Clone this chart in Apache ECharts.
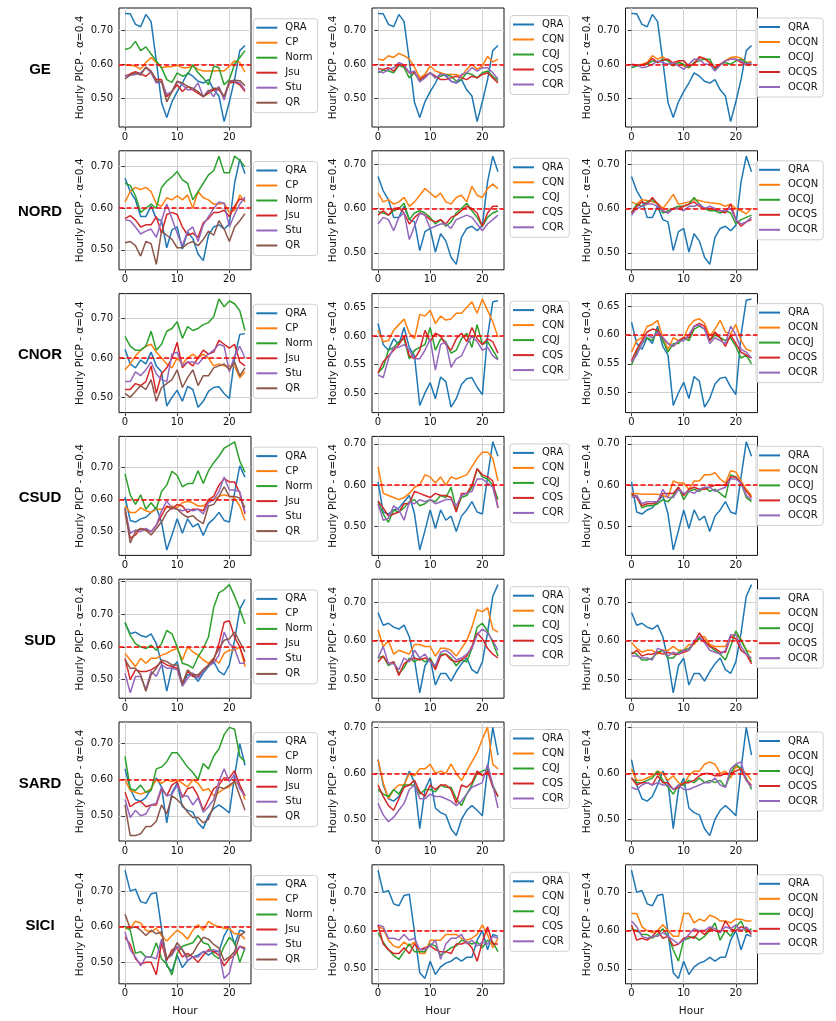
<!DOCTYPE html>
<html>
<head>
<meta charset="utf-8">
<script src="https://cdn.jsdelivr.net/npm/echarts@6/dist/echarts.min.js"></script>
<style>
html,body{margin:0;padding:0;background:#fff;}
#chart{width:836px;height:1021px;}
</style>
</head>
<body>
<div id="chart"></div>
<script>
const HOURS = [0,1,2,3,4,5,6,7,8,9,10,11,12,13,14,15,16,17,18,19,20,21,22,23];
const ROW_NAMES = ['GE','NORD','CNOR','CSUD','SUD','SARD','SICI'];
const COL1_NAMES = ['QRA','CP','Norm','Jsu','Stu','QR'];
const COL2_NAMES = ['QRA','CQN','CQJ','CQS','CQR'];
const COL3_NAMES = ['QRA','OCQN','OCQJ','OCQS','OCQR'];
const Y_LABEL = 'Hourly PICP - α=0.4';
const X_LABEL = 'Hour';
const TARGET = 0.6;

// ---- GE ----
const GE_QRA  = [0.749,0.748,0.717,0.710,0.746,0.725,0.610,0.488,0.444,0.490,0.520,0.545,0.575,0.565,0.550,0.545,0.555,0.525,0.507,0.432,0.490,0.555,0.640,0.655];
const GE_CP   = [0.597,0.597,0.594,0.586,0.605,0.620,0.605,0.590,0.593,0.593,0.597,0.590,0.590,0.595,0.585,0.580,0.580,0.580,0.582,0.580,0.595,0.610,0.605,0.577];
const GE_NORM = [0.643,0.648,0.667,0.640,0.651,0.630,0.610,0.590,0.555,0.547,0.575,0.565,0.570,0.598,0.575,0.560,0.540,0.595,0.590,0.540,0.555,0.600,0.620,0.640];
const GE_JSU  = [0.565,0.572,0.578,0.572,0.565,0.578,0.555,0.555,0.505,0.520,0.540,0.520,0.535,0.525,0.515,0.505,0.515,0.525,0.525,0.505,0.545,0.548,0.540,0.520];
const GE_STU  = [0.565,0.568,0.570,0.575,0.590,0.575,0.545,0.548,0.512,0.520,0.550,0.540,0.525,0.525,0.545,0.505,0.525,0.505,0.535,0.495,0.550,0.550,0.545,0.525];
const GE_QR   = [0.557,0.568,0.575,0.568,0.592,0.580,0.550,0.550,0.490,0.520,0.550,0.545,0.535,0.530,0.520,0.505,0.520,0.530,0.530,0.505,0.550,0.553,0.552,0.537];
const GE_CQN  = [0.616,0.612,0.625,0.620,0.632,0.625,0.615,0.592,0.560,0.570,0.595,0.580,0.575,0.570,0.570,0.570,0.565,0.585,0.600,0.585,0.595,0.623,0.607,0.615];
const GE_CQJ  = [0.575,0.583,0.580,0.575,0.597,0.590,0.560,0.575,0.550,0.565,0.575,0.560,0.565,0.570,0.565,0.550,0.555,0.575,0.570,0.560,0.575,0.580,0.565,0.552];
const GE_CQS  = [0.587,0.585,0.590,0.580,0.600,0.595,0.575,0.575,0.555,0.565,0.575,0.565,0.555,0.555,0.560,0.565,0.560,0.555,0.565,0.560,0.570,0.575,0.560,0.545];
const GE_CQR  = [0.580,0.575,0.585,0.590,0.605,0.598,0.575,0.580,0.548,0.560,0.575,0.560,0.570,0.570,0.550,0.545,0.570,0.575,0.590,0.580,0.590,0.590,0.575,0.557];
const GE_OCQN = [0.597,0.598,0.600,0.605,0.625,0.615,0.622,0.610,0.605,0.610,0.595,0.590,0.605,0.620,0.615,0.605,0.590,0.600,0.610,0.620,0.622,0.618,0.605,0.608];
const GE_OCQJ = [0.590,0.595,0.598,0.600,0.610,0.605,0.615,0.610,0.595,0.605,0.600,0.590,0.605,0.610,0.615,0.615,0.585,0.600,0.605,0.600,0.610,0.615,0.605,0.600];
const GE_OCQS = [0.600,0.598,0.597,0.603,0.617,0.605,0.612,0.615,0.603,0.610,0.610,0.595,0.600,0.622,0.617,0.605,0.590,0.600,0.610,0.615,0.615,0.605,0.600,0.598];
const GE_OCQR = [0.595,0.598,0.590,0.593,0.600,0.610,0.605,0.600,0.605,0.595,0.585,0.600,0.615,0.615,0.600,0.600,0.580,0.598,0.610,0.615,0.615,0.610,0.600,0.605];

// ---- NORD ----
const NORD_QRA  = [0.672,0.640,0.620,0.580,0.580,0.605,0.575,0.570,0.505,0.548,0.555,0.502,0.543,0.527,0.490,0.474,0.535,0.555,0.560,0.550,0.562,0.660,0.718,0.683];
const NORD_CP   = [0.615,0.640,0.650,0.645,0.650,0.640,0.610,0.605,0.625,0.620,0.630,0.620,0.632,0.600,0.640,0.625,0.620,0.610,0.610,0.612,0.590,0.595,0.632,0.615];
const NORD_NORM = [0.660,0.655,0.630,0.590,0.600,0.610,0.600,0.650,0.665,0.675,0.688,0.668,0.660,0.620,0.640,0.660,0.680,0.690,0.725,0.685,0.685,0.725,0.715,0.700];
const NORD_JSU  = [0.575,0.582,0.572,0.555,0.560,0.560,0.580,0.540,0.585,0.590,0.585,0.555,0.535,0.540,0.530,0.565,0.575,0.590,0.590,0.595,0.580,0.605,0.622,0.620];
const NORD_STU  = [0.572,0.570,0.555,0.538,0.545,0.550,0.530,0.570,0.610,0.575,0.540,0.510,0.545,0.555,0.520,0.560,0.580,0.600,0.615,0.612,0.555,0.585,0.610,0.627];
const NORD_QR   = [0.517,0.520,0.510,0.485,0.520,0.515,0.465,0.545,0.535,0.525,0.505,0.505,0.515,0.520,0.510,0.525,0.545,0.535,0.570,0.550,0.520,0.555,0.570,0.587];
const NORD_CQN  = [0.635,0.615,0.620,0.610,0.615,0.625,0.605,0.615,0.630,0.645,0.635,0.625,0.635,0.615,0.610,0.625,0.630,0.615,0.650,0.630,0.625,0.645,0.655,0.645];
const NORD_CQJ  = [0.593,0.590,0.585,0.595,0.600,0.612,0.575,0.590,0.595,0.590,0.580,0.565,0.575,0.560,0.570,0.590,0.600,0.612,0.595,0.580,0.560,0.580,0.590,0.595];
const NORD_CQS  = [0.585,0.595,0.585,0.600,0.602,0.590,0.565,0.580,0.590,0.585,0.575,0.570,0.575,0.565,0.580,0.585,0.595,0.605,0.600,0.590,0.560,0.590,0.605,0.605];
const NORD_CQR  = [0.565,0.580,0.575,0.550,0.580,0.590,0.530,0.560,0.590,0.585,0.555,0.560,0.565,0.565,0.555,0.575,0.580,0.585,0.580,0.565,0.550,0.565,0.575,0.585];
const NORD_OCQN = [0.615,0.610,0.620,0.618,0.615,0.612,0.600,0.615,0.632,0.610,0.612,0.615,0.620,0.618,0.615,0.613,0.612,0.610,0.605,0.610,0.600,0.595,0.588,0.600];
const NORD_OCQJ = [0.590,0.610,0.605,0.615,0.620,0.610,0.590,0.595,0.600,0.605,0.605,0.610,0.625,0.610,0.600,0.595,0.595,0.590,0.595,0.590,0.565,0.575,0.580,0.585];
const NORD_OCQS = [0.590,0.605,0.615,0.610,0.625,0.610,0.595,0.590,0.600,0.600,0.605,0.610,0.615,0.605,0.600,0.600,0.598,0.595,0.590,0.610,0.575,0.560,0.570,0.575];
const NORD_OCQR = [0.585,0.600,0.605,0.610,0.610,0.605,0.595,0.590,0.600,0.600,0.595,0.605,0.605,0.610,0.600,0.605,0.600,0.595,0.595,0.600,0.575,0.565,0.570,0.580];

// ---- CNOR ----
const CNOR_QRA  = [0.622,0.585,0.575,0.595,0.585,0.615,0.580,0.565,0.478,0.500,0.518,0.490,0.528,0.520,0.475,0.490,0.515,0.525,0.527,0.510,0.497,0.600,0.660,0.662];
const CNOR_CP   = [0.570,0.585,0.605,0.620,0.630,0.635,0.615,0.600,0.585,0.575,0.600,0.585,0.600,0.610,0.600,0.610,0.600,0.580,0.585,0.580,0.580,0.580,0.550,0.565];
const CNOR_NORM = [0.655,0.630,0.620,0.620,0.630,0.668,0.620,0.635,0.668,0.675,0.692,0.650,0.680,0.670,0.675,0.685,0.690,0.705,0.750,0.730,0.745,0.738,0.720,0.670];
const CNOR_JSU  = [0.520,0.520,0.535,0.530,0.540,0.580,0.510,0.560,0.575,0.600,0.640,0.575,0.590,0.580,0.600,0.620,0.610,0.615,0.645,0.635,0.625,0.635,0.590,0.580];
const CNOR_STU  = [0.540,0.540,0.565,0.555,0.570,0.590,0.560,0.545,0.540,0.610,0.615,0.580,0.590,0.590,0.585,0.600,0.610,0.620,0.635,0.630,0.565,0.605,0.630,0.600];
const CNOR_QR   = [0.510,0.500,0.515,0.530,0.520,0.545,0.490,0.525,0.535,0.545,0.570,0.525,0.550,0.570,0.530,0.555,0.555,0.575,0.580,0.585,0.570,0.590,0.555,0.575];
const CNOR_CQN  = [0.610,0.590,0.592,0.610,0.620,0.630,0.605,0.595,0.638,0.635,0.645,0.622,0.635,0.628,0.630,0.640,0.640,0.650,0.660,0.640,0.665,0.645,0.625,0.598];
const CNOR_CQJ  = [0.535,0.545,0.575,0.580,0.590,0.595,0.560,0.575,0.580,0.585,0.615,0.575,0.595,0.590,0.570,0.575,0.595,0.605,0.580,0.620,0.585,0.590,0.575,0.560];
const CNOR_CQS  = [0.535,0.555,0.565,0.575,0.585,0.600,0.565,0.560,0.575,0.610,0.590,0.605,0.600,0.585,0.575,0.595,0.605,0.590,0.615,0.595,0.585,0.595,0.590,0.570];
const CNOR_CQR  = [0.532,0.527,0.560,0.580,0.580,0.585,0.575,0.560,0.560,0.575,0.595,0.540,0.585,0.590,0.545,0.560,0.565,0.585,0.600,0.590,0.575,0.580,0.565,0.558];
const CNOR_OCQN = [0.570,0.590,0.595,0.615,0.618,0.625,0.595,0.575,0.595,0.590,0.595,0.615,0.625,0.628,0.620,0.598,0.610,0.625,0.605,0.602,0.618,0.590,0.575,0.572];
const CNOR_OCQJ = [0.548,0.570,0.585,0.595,0.590,0.610,0.590,0.570,0.585,0.585,0.595,0.590,0.610,0.615,0.610,0.590,0.600,0.595,0.590,0.595,0.580,0.560,0.565,0.550];
const CNOR_OCQS = [0.555,0.575,0.590,0.605,0.610,0.608,0.595,0.585,0.580,0.590,0.595,0.595,0.615,0.620,0.615,0.590,0.605,0.595,0.580,0.600,0.585,0.570,0.565,0.560];
const CNOR_OCQR = [0.553,0.565,0.585,0.600,0.595,0.605,0.595,0.585,0.580,0.590,0.590,0.600,0.615,0.617,0.610,0.585,0.595,0.590,0.585,0.615,0.600,0.575,0.570,0.560];

// ---- CSUD ----
const CSUD_QRA  = [0.608,0.535,0.530,0.540,0.545,0.560,0.575,0.530,0.443,0.490,0.540,0.495,0.540,0.515,0.525,0.488,0.525,0.540,0.560,0.535,0.530,0.620,0.705,0.670];
const CSUD_CP   = [0.580,0.560,0.560,0.575,0.565,0.560,0.570,0.570,0.575,0.580,0.575,0.590,0.595,0.590,0.580,0.580,0.595,0.600,0.610,0.615,0.610,0.605,0.580,0.535];
const CSUD_NORM = [0.680,0.615,0.585,0.615,0.570,0.590,0.570,0.625,0.645,0.688,0.675,0.640,0.650,0.650,0.690,0.650,0.690,0.715,0.735,0.760,0.770,0.780,0.720,0.685];
const CSUD_JSU  = [0.560,0.480,0.490,0.510,0.505,0.500,0.520,0.550,0.580,0.570,0.585,0.580,0.560,0.570,0.570,0.565,0.600,0.610,0.645,0.665,0.655,0.655,0.620,0.555];
const CSUD_STU  = [0.570,0.495,0.505,0.500,0.510,0.500,0.520,0.565,0.595,0.575,0.570,0.565,0.570,0.565,0.570,0.555,0.590,0.600,0.625,0.670,0.630,0.630,0.625,0.560];
const CSUD_QR   = [0.575,0.465,0.500,0.510,0.505,0.490,0.510,0.530,0.560,0.575,0.570,0.555,0.545,0.550,0.535,0.525,0.580,0.585,0.610,0.640,0.610,0.610,0.605,0.575];
const CSUD_CQN  = [0.645,0.580,0.575,0.570,0.565,0.570,0.580,0.595,0.600,0.625,0.620,0.605,0.620,0.600,0.620,0.615,0.620,0.625,0.645,0.665,0.680,0.680,0.665,0.610];
const CSUD_CQJ  = [0.560,0.530,0.510,0.540,0.535,0.545,0.560,0.565,0.550,0.555,0.565,0.560,0.575,0.570,0.595,0.540,0.570,0.575,0.595,0.640,0.620,0.615,0.600,0.565];
const CSUD_CQS  = [0.562,0.545,0.525,0.530,0.535,0.555,0.555,0.585,0.580,0.575,0.570,0.580,0.575,0.575,0.570,0.535,0.580,0.580,0.600,0.640,0.625,0.620,0.610,0.545];
const CSUD_CQR  = [0.555,0.515,0.520,0.550,0.540,0.515,0.560,0.555,0.565,0.560,0.565,0.555,0.560,0.565,0.565,0.550,0.575,0.580,0.585,0.615,0.615,0.605,0.595,0.545];
const CSUD_OCQN = [0.580,0.580,0.578,0.578,0.578,0.578,0.575,0.570,0.610,0.605,0.605,0.590,0.610,0.610,0.625,0.625,0.630,0.615,0.605,0.635,0.632,0.610,0.590,0.575];
const CSUD_OCQJ = [0.575,0.575,0.545,0.550,0.550,0.555,0.565,0.560,0.575,0.595,0.565,0.585,0.590,0.585,0.595,0.585,0.590,0.580,0.570,0.625,0.620,0.605,0.570,0.560];
const CSUD_OCQS = [0.580,0.570,0.550,0.555,0.555,0.560,0.580,0.580,0.580,0.595,0.575,0.590,0.595,0.590,0.590,0.595,0.600,0.600,0.600,0.620,0.620,0.605,0.585,0.570];
const CSUD_OCQR = [0.570,0.575,0.555,0.560,0.560,0.560,0.590,0.570,0.570,0.590,0.580,0.585,0.580,0.590,0.595,0.595,0.585,0.590,0.595,0.615,0.615,0.605,0.575,0.565];

// ---- SUD ----
const SUD_QRA  = [0.673,0.640,0.645,0.635,0.630,0.640,0.610,0.550,0.465,0.535,0.555,0.485,0.515,0.515,0.495,0.520,0.540,0.555,0.525,0.515,0.545,0.620,0.715,0.745];
const SUD_CP   = [0.580,0.560,0.540,0.565,0.550,0.565,0.565,0.575,0.580,0.590,0.595,0.560,0.600,0.585,0.575,0.560,0.550,0.565,0.550,0.580,0.590,0.590,0.600,0.540];
const SUD_NORM = [0.675,0.635,0.610,0.600,0.595,0.605,0.590,0.610,0.650,0.640,0.600,0.550,0.545,0.535,0.570,0.595,0.630,0.720,0.765,0.775,0.790,0.755,0.715,0.670];
const SUD_JSU  = [0.565,0.500,0.530,0.525,0.525,0.530,0.540,0.555,0.545,0.540,0.535,0.490,0.525,0.510,0.510,0.530,0.545,0.560,0.610,0.675,0.680,0.630,0.600,0.555];
const SUD_STU  = [0.520,0.460,0.510,0.510,0.470,0.525,0.510,0.545,0.535,0.535,0.530,0.480,0.505,0.520,0.505,0.525,0.545,0.550,0.575,0.645,0.610,0.595,0.550,0.550];
const SUD_QR   = [0.560,0.535,0.535,0.515,0.465,0.515,0.535,0.560,0.555,0.545,0.545,0.485,0.530,0.515,0.515,0.530,0.545,0.565,0.595,0.620,0.625,0.645,0.615,0.585];
const SUD_CQN  = [0.628,0.585,0.600,0.565,0.575,0.570,0.565,0.590,0.590,0.585,0.585,0.560,0.580,0.580,0.575,0.560,0.580,0.600,0.635,0.680,0.675,0.685,0.630,0.622];
const SUD_CQJ  = [0.555,0.560,0.535,0.545,0.515,0.530,0.555,0.545,0.555,0.545,0.555,0.530,0.565,0.565,0.555,0.535,0.550,0.545,0.580,0.635,0.645,0.625,0.595,0.560];
const SUD_CQS  = [0.545,0.560,0.540,0.545,0.510,0.540,0.550,0.555,0.550,0.555,0.550,0.525,0.560,0.565,0.550,0.545,0.550,0.560,0.585,0.620,0.605,0.580,0.565,0.555];
const SUD_CQR  = [0.555,0.585,0.540,0.540,0.525,0.555,0.545,0.575,0.555,0.565,0.545,0.535,0.570,0.575,0.565,0.550,0.555,0.565,0.580,0.615,0.630,0.620,0.600,0.575];
const SUD_OCQN = [0.595,0.580,0.570,0.575,0.575,0.565,0.575,0.575,0.585,0.575,0.575,0.590,0.590,0.610,0.610,0.590,0.585,0.585,0.585,0.610,0.615,0.605,0.575,0.570];
const SUD_OCQJ = [0.570,0.565,0.550,0.550,0.555,0.570,0.575,0.555,0.555,0.570,0.575,0.580,0.595,0.605,0.600,0.585,0.575,0.565,0.550,0.585,0.625,0.600,0.575,0.545];
const SUD_OCQS = [0.565,0.575,0.560,0.565,0.565,0.570,0.565,0.570,0.565,0.565,0.570,0.575,0.595,0.620,0.600,0.585,0.580,0.570,0.570,0.610,0.605,0.575,0.565,0.540];
const SUD_OCQR = [0.560,0.560,0.555,0.555,0.550,0.580,0.575,0.560,0.570,0.565,0.575,0.575,0.600,0.610,0.595,0.575,0.570,0.565,0.575,0.615,0.615,0.585,0.565,0.555];

// ---- SARD ----
const SARD_QRA  = [0.630,0.575,0.545,0.540,0.550,0.575,0.605,0.580,0.480,0.565,0.590,0.525,0.515,0.510,0.480,0.465,0.500,0.520,0.530,0.520,0.508,0.610,0.700,0.640];
const SARD_CP   = [0.600,0.570,0.565,0.560,0.565,0.575,0.600,0.590,0.600,0.595,0.600,0.590,0.580,0.600,0.590,0.570,0.575,0.555,0.565,0.575,0.580,0.595,0.585,0.545];
const SARD_NORM = [0.665,0.575,0.570,0.585,0.565,0.570,0.630,0.635,0.650,0.675,0.675,0.655,0.635,0.620,0.600,0.645,0.630,0.665,0.685,0.725,0.745,0.740,0.665,0.650];
const SARD_JSU  = [0.565,0.525,0.535,0.540,0.525,0.530,0.530,0.575,0.555,0.585,0.595,0.550,0.575,0.580,0.555,0.515,0.545,0.575,0.585,0.605,0.605,0.625,0.585,0.555];
const SARD_STU  = [0.545,0.495,0.515,0.500,0.505,0.530,0.535,0.580,0.555,0.560,0.585,0.555,0.555,0.530,0.550,0.510,0.525,0.545,0.595,0.630,0.595,0.615,0.575,0.555];
const SARD_QR   = [0.530,0.445,0.445,0.450,0.470,0.470,0.485,0.530,0.505,0.555,0.545,0.530,0.510,0.495,0.495,0.480,0.490,0.530,0.580,0.575,0.585,0.595,0.555,0.515];
const SARD_CQN  = [0.630,0.580,0.545,0.565,0.575,0.575,0.600,0.595,0.610,0.610,0.620,0.600,0.605,0.600,0.620,0.600,0.585,0.605,0.625,0.645,0.675,0.700,0.620,0.610];
const SARD_CQJ  = [0.565,0.555,0.550,0.565,0.555,0.575,0.575,0.575,0.555,0.565,0.565,0.560,0.575,0.570,0.570,0.545,0.530,0.555,0.575,0.600,0.605,0.610,0.575,0.550];
const SARD_CQS  = [0.575,0.550,0.530,0.520,0.545,0.570,0.575,0.585,0.560,0.550,0.575,0.565,0.575,0.575,0.565,0.535,0.575,0.570,0.580,0.605,0.595,0.605,0.570,0.550];
const SARD_CQR  = [0.535,0.510,0.495,0.505,0.520,0.535,0.565,0.575,0.545,0.545,0.555,0.550,0.550,0.545,0.540,0.530,0.540,0.555,0.570,0.575,0.580,0.620,0.575,0.525];
const SARD_OCQN = [0.610,0.585,0.585,0.590,0.595,0.605,0.600,0.585,0.595,0.580,0.575,0.595,0.605,0.605,0.620,0.625,0.620,0.600,0.605,0.590,0.615,0.610,0.600,0.585];
const SARD_OCQJ = [0.590,0.580,0.580,0.585,0.590,0.605,0.585,0.570,0.555,0.575,0.575,0.585,0.580,0.590,0.580,0.585,0.580,0.585,0.570,0.600,0.620,0.610,0.590,0.565];
const SARD_OCQS = [0.590,0.575,0.580,0.580,0.575,0.595,0.580,0.580,0.565,0.570,0.580,0.580,0.585,0.595,0.600,0.600,0.595,0.595,0.600,0.600,0.605,0.610,0.585,0.575];
const SARD_OCQR = [0.570,0.565,0.575,0.580,0.575,0.580,0.575,0.575,0.565,0.575,0.565,0.565,0.570,0.575,0.580,0.580,0.590,0.575,0.570,0.610,0.620,0.625,0.585,0.570];

// ---- SICI ----
const SICI_QRA  = [0.758,0.700,0.705,0.670,0.665,0.692,0.695,0.595,0.490,0.475,0.520,0.485,0.505,0.515,0.520,0.530,0.520,0.530,0.530,0.575,0.600,0.550,0.590,0.585];
const SICI_CP   = [0.595,0.595,0.615,0.610,0.590,0.585,0.595,0.575,0.560,0.575,0.590,0.580,0.565,0.590,0.605,0.590,0.615,0.605,0.600,0.595,0.595,0.580,0.580,0.565];
const SICI_NORM = [0.600,0.590,0.525,0.530,0.515,0.515,0.555,0.510,0.495,0.465,0.525,0.545,0.550,0.555,0.575,0.555,0.550,0.520,0.510,0.545,0.570,0.555,0.500,0.540];
const SICI_JSU  = [0.570,0.550,0.510,0.495,0.500,0.500,0.465,0.555,0.505,0.535,0.540,0.515,0.525,0.515,0.500,0.520,0.535,0.530,0.520,0.490,0.510,0.520,0.545,0.540];
const SICI_STU  = [0.585,0.535,0.515,0.490,0.515,0.515,0.510,0.565,0.510,0.520,0.545,0.535,0.505,0.515,0.515,0.530,0.530,0.535,0.530,0.455,0.470,0.530,0.545,0.535];
const SICI_QR   = [0.635,0.595,0.600,0.590,0.575,0.590,0.580,0.585,0.510,0.525,0.555,0.535,0.515,0.525,0.550,0.570,0.565,0.550,0.540,0.505,0.515,0.530,0.575,0.585];
const SICI_CQN  = [0.610,0.605,0.575,0.560,0.555,0.570,0.560,0.570,0.540,0.540,0.575,0.575,0.575,0.590,0.590,0.590,0.580,0.575,0.580,0.590,0.615,0.590,0.555,0.580];
const SICI_CQJ  = [0.595,0.570,0.550,0.535,0.525,0.545,0.565,0.545,0.545,0.545,0.565,0.560,0.535,0.545,0.555,0.560,0.575,0.570,0.565,0.570,0.555,0.575,0.570,0.545];
const SICI_CQS  = [0.615,0.565,0.550,0.540,0.540,0.555,0.540,0.565,0.550,0.555,0.560,0.550,0.545,0.545,0.540,0.565,0.565,0.570,0.555,0.520,0.570,0.610,0.565,0.565];
const SICI_CQR  = [0.615,0.610,0.580,0.580,0.575,0.590,0.575,0.580,0.550,0.550,0.560,0.575,0.525,0.565,0.580,0.580,0.590,0.565,0.575,0.560,0.570,0.565,0.585,0.580];
const SICI_OCQN = [0.645,0.645,0.610,0.600,0.595,0.600,0.615,0.600,0.585,0.585,0.645,0.645,0.620,0.630,0.625,0.640,0.635,0.625,0.625,0.620,0.630,0.630,0.625,0.625];
const SICI_OCQJ = [0.605,0.600,0.590,0.590,0.580,0.590,0.605,0.585,0.550,0.520,0.575,0.580,0.585,0.575,0.585,0.600,0.620,0.575,0.600,0.585,0.610,0.625,0.595,0.605];
const SICI_OCQS = [0.615,0.575,0.580,0.575,0.585,0.600,0.580,0.585,0.560,0.565,0.580,0.585,0.580,0.600,0.590,0.605,0.600,0.595,0.625,0.605,0.600,0.610,0.605,0.590];
const SICI_OCQR = [0.625,0.610,0.585,0.580,0.585,0.585,0.595,0.585,0.575,0.565,0.575,0.590,0.605,0.600,0.600,0.610,0.605,0.595,0.610,0.605,0.615,0.600,0.610,0.595];

// Tick steps per panel (row, col)
const Y_STEP_DEFAULT = 0.1;
const Y_STEP_FINE = 0.05;
const FINE_PANELS = ['CNOR-1','CNOR-2'];

// ---------------- build ----------------
const ROWS = [
  [GE_QRA,   [GE_CP,GE_NORM,GE_JSU,GE_STU,GE_QR],       [GE_CQN,GE_CQJ,GE_CQS,GE_CQR],       [GE_OCQN,GE_OCQJ,GE_OCQS,GE_OCQR]],
  [NORD_QRA, [NORD_CP,NORD_NORM,NORD_JSU,NORD_STU,NORD_QR], [NORD_CQN,NORD_CQJ,NORD_CQS,NORD_CQR], [NORD_OCQN,NORD_OCQJ,NORD_OCQS,NORD_OCQR]],
  [CNOR_QRA, [CNOR_CP,CNOR_NORM,CNOR_JSU,CNOR_STU,CNOR_QR], [CNOR_CQN,CNOR_CQJ,CNOR_CQS,CNOR_CQR], [CNOR_OCQN,CNOR_OCQJ,CNOR_OCQS,CNOR_OCQR]],
  [CSUD_QRA, [CSUD_CP,CSUD_NORM,CSUD_JSU,CSUD_STU,CSUD_QR], [CSUD_CQN,CSUD_CQJ,CSUD_CQS,CSUD_CQR], [CSUD_OCQN,CSUD_OCQJ,CSUD_OCQS,CSUD_OCQR]],
  [SUD_QRA,  [SUD_CP,SUD_NORM,SUD_JSU,SUD_STU,SUD_QR],  [SUD_CQN,SUD_CQJ,SUD_CQS,SUD_CQR],  [SUD_OCQN,SUD_OCQJ,SUD_OCQS,SUD_OCQR]],
  [SARD_QRA, [SARD_CP,SARD_NORM,SARD_JSU,SARD_STU,SARD_QR], [SARD_CQN,SARD_CQJ,SARD_CQS,SARD_CQR], [SARD_OCQN,SARD_OCQJ,SARD_OCQS,SARD_OCQR]],
  [SICI_QRA, [SICI_CP,SICI_NORM,SICI_JSU,SICI_STU,SICI_QR], [SICI_CQN,SICI_CQJ,SICI_CQS,SICI_CQR], [SICI_OCQN,SICI_OCQJ,SICI_OCQS,SICI_OCQR]]
];
const COL_NAMES = [COL1_NAMES, COL2_NAMES, COL3_NAMES];
const COLORS = ['#1f77b4','#ff7f0e','#2ca02c','#d62728','#9467bd','#8c564b'];

const FONT = 'DejaVu Sans';
const COL_LEFT = [119, 372, 625.5];
const PLOT_W = 132, PLOT_H = 119;
const ROW_TOP0 = 8, ROW_STEP = 142.8;
const LEGEND_LEFT = [253.3, 510, 756];
const LEGEND_DY = [10.7, 7.5, 10];

const grids = [], xAxes = [], yAxes = [], series = [], legends = [], graphics = [];
let p = 0;
ROWS.forEach((row, r) => {
  const top = ROW_TOP0 + r * ROW_STEP;
  graphics.push({
    type: 'text', x: 40, y: top + PLOT_H / 2 + 2, silent: true,
    style: { text: ROW_NAMES[r], fill: '#000', font: 'bold 15px "Liberation Sans", Arial, sans-serif',
             textAlign: 'center', textVerticalAlign: 'middle' }
  });
  for (let c = 0; c < 3; c++) {
    const names = COL_NAMES[c];
    const arrs = [row[0]].concat(row[c + 1]);
    let mn = TARGET, mx = TARGET;
    arrs.forEach(a => a.forEach(v => { if (v < mn) mn = v; if (v > mx) mx = v; }));
    const pad = 0.05 * (mx - mn);
    const yMin = mn - pad, yMax = mx + pad;
    const step = FINE_PANELS.indexOf(ROW_NAMES[r] + '-' + c) >= 0 ? Y_STEP_FINE : Y_STEP_DEFAULT;
    const ticks = [];
    for (let k = Math.ceil(yMin / step - 1e-9); k <= Math.floor(yMax / step + 1e-9); k++) {
      ticks.push(Math.round(k * step * 1000) / 1000);
    }
    const isBottom = r === ROWS.length - 1;
    grids.push({ left: COL_LEFT[c], top: top, width: PLOT_W, height: PLOT_H,
                 show: true, borderColor: '#111', borderWidth: 1, backgroundColor: 'transparent' });
    xAxes.push({
      type: 'value', gridIndex: p, min: -1.15, max: 24.15,
      name: isBottom ? X_LABEL : '', nameLocation: 'middle', nameGap: 22,
      nameTextStyle: { fontFamily: FONT, fontSize: 10.5, color: '#111' },
      axisLine: { show: false },
      axisTick: { show: true, length: 3.5, inside: false, customValues: [0, 10, 20], lineStyle: { color: '#111', width: 0.8 } },
      axisLabel: { show: true, customValues: [0, 10, 20], margin: 5, fontFamily: FONT, fontSize: 10, color: '#111' },
      splitLine: { show: true, lineStyle: { color: '#cfcfcf', width: 1 } }
    });
    yAxes.push({
      type: 'value', gridIndex: p, min: yMin, max: yMax,
      name: Y_LABEL, nameLocation: 'middle', nameRotate: 90, nameGap: 33,
      nameTextStyle: { fontFamily: FONT, fontSize: 10.5, color: '#111' },
      axisLine: { show: false },
      axisTick: { show: true, length: 3.5, inside: false, customValues: ticks, lineStyle: { color: '#111', width: 0.8 } },
      axisLabel: { show: true, customValues: ticks, margin: 6, fontFamily: FONT, fontSize: 10, color: '#111',
                   formatter: v => Number(v).toFixed(2) },
      splitLine: { show: true, lineStyle: { color: '#cfcfcf', width: 1 } }
    });
    arrs.forEach((a, i) => {
      series.push({
        type: 'line', name: names[i], xAxisIndex: p, yAxisIndex: p,
        data: HOURS.map((h, j) => [h, a[j]]),
        showSymbol: false, symbol: 'none', silent: true,
        lineStyle: { color: COLORS[i], width: 1.5 }, itemStyle: { color: COLORS[i] },
        z: 3 + i * 0.01, animation: false
      });
    });
    series.push({
      type: 'line', name: '__target', xAxisIndex: p, yAxisIndex: p, data: [], silent: true, z: 5,
      markLine: { silent: true, symbol: ['none', 'none'], label: { show: false }, animation: false,
                  lineStyle: { color: '#ff0000', type: [5, 2.5], width: 1.5 },
                  data: [{ yAxis: TARGET }] }
    });
    legends.push({
      data: names, orient: 'vertical', left: LEGEND_LEFT[c], top: top + LEGEND_DY[c],
      icon: 'rect', itemWidth: 21, itemHeight: 2, itemGap: 3, selectedMode: false,
      padding: [3, 5, 4, 3], borderColor: '#d0d0d0', borderWidth: 1, borderRadius: 3,
      backgroundColor: 'rgba(255,255,255,0.85)',
      textStyle: { fontFamily: FONT, fontSize: 10, color: '#111', lineHeight: 12, padding: [0, 0, 0, 3] }
    });
    p++;
  }
});

const chart = echarts.init(document.getElementById('chart'), null, { renderer: 'canvas' });
chart.setOption({
  animation: false,
  backgroundColor: '#fff',
  grid: grids, xAxis: xAxes, yAxis: yAxes, series: series, legend: legends, graphic: graphics
});
</script>
</body>
</html>
